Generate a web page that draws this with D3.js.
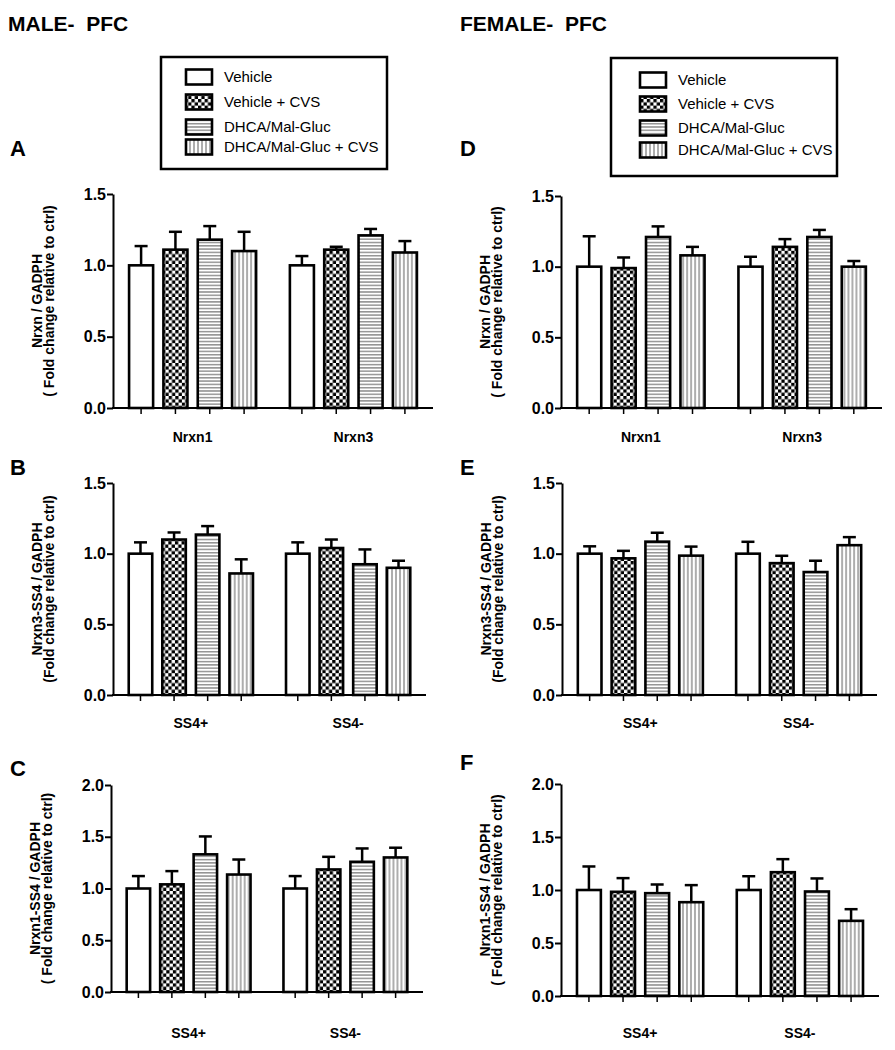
<!DOCTYPE html>
<html><head><meta charset="utf-8">
<script src="https://cdn.jsdelivr.net/npm/d3@7"></script>
<style>
body{margin:0;background:#fff}
text{font-family:"Liberation Sans",Arial,Helvetica,sans-serif}
</style>
</head><body>
<svg id="chart" width="895" height="1050"></svg>
<script>
// ---------- DATA ----------
const seriesNames = ["Vehicle", "Vehicle + CVS", "DHCA/Mal-Gluc", "DHCA/Mal-Gluc + CVS"];
const nrxnGroups = ["Nrxn1", "Nrxn3"];
const ss4Groups = ["SS4+", "SS4-"];
const yTicksLow = [0, 0.5, 1.0, 1.5];
const yTicksHigh = [0, 0.5, 1.0, 1.5, 2.0];

// Male PFC
const meanA = [[1.00, 1.11, 1.18, 1.10], [1.00, 1.11, 1.21, 1.09]];
const semA  = [[0.135, 0.125, 0.095, 0.135], [0.065, 0.02, 0.045, 0.08]];
const meanB = [[1.00, 1.10, 1.135, 0.86], [1.00, 1.04, 0.925, 0.90]];
const semB  = [[0.08, 0.05, 0.06, 0.10], [0.08, 0.06, 0.105, 0.05]];
const meanC = [[1.00, 1.04, 1.33, 1.135], [1.00, 1.184, 1.258, 1.30]];
const semC  = [[0.12, 0.128, 0.173, 0.145], [0.12, 0.122, 0.129, 0.094]];
// Female PFC
const meanD = [[1.00, 0.99, 1.21, 1.08], [1.00, 1.14, 1.21, 1.00]];
const semD  = [[0.215, 0.075, 0.075, 0.06], [0.07, 0.055, 0.05, 0.04]];
const meanE = [[1.00, 0.967, 1.085, 0.986], [1.00, 0.933, 0.87, 1.06]];
const semE  = [[0.052, 0.053, 0.063, 0.064], [0.084, 0.052, 0.08, 0.057]];
const meanF = [[1.00, 0.983, 0.97, 0.885], [1.00, 1.168, 0.986, 0.709]];
const semF  = [[0.222, 0.129, 0.082, 0.161], [0.13, 0.123, 0.123, 0.11]];

const yLabel1 = ["Nrxn / GADPH", "Nrxn3-SS4 / GADPH", "Nrxn1-SS4 / GADPH"];
const yLabel2 = ["( Fold change relative to ctrl)", "(Fold change relative to ctrl)", "( Fold change relative to ctrl)"];

// ---------- LAYOUT ----------
const svg = d3.select("#chart");
svg.append("rect").attr("width", 895).attr("height", 1050).attr("fill", "#fff");

const defs = svg.append("defs");
const pc = defs.append("pattern").attr("id", "pCheck").attr("patternUnits", "userSpaceOnUse")
  .attr("width", 6.6).attr("height", 6.6);
pc.append("rect").attr("width", 6.6).attr("height", 6.6).attr("fill", "#fff");
pc.append("rect").attr("width", 3.3).attr("height", 3.3).attr("fill", "#000");
pc.append("rect").attr("x", 3.3).attr("y", 3.3).attr("width", 3.3).attr("height", 3.3).attr("fill", "#000");
const ph = defs.append("pattern").attr("id", "pHor").attr("patternUnits", "userSpaceOnUse")
  .attr("width", 4).attr("height", 3.3);
ph.append("rect").attr("width", 4).attr("height", 3.3).attr("fill", "#fff");
ph.append("rect").attr("y", 1).attr("width", 4).attr("height", 1.2).attr("fill", "#777");
const pv = defs.append("pattern").attr("id", "pVer").attr("patternUnits", "userSpaceOnUse")
  .attr("width", 4).attr("height", 4);
pv.append("rect").attr("width", 4).attr("height", 4).attr("fill", "#fff");
pv.append("rect").attr("x", 1.4).attr("width", 1.2).attr("height", 4).attr("fill", "#777");

const fills = ["#fff", "url(#pCheck)", "url(#pHor)", "url(#pVer)"];

const panels = [
  {letter: "A", lx: 10, ly: 156, left: 113, right: 433, top: 194, bottom: 408, max: 1.5, ticks: yTicksLow, mean: meanA, sem: semA, groups: nrxnGroups, lab: 0, catDy: 34},
  {letter: "B", lx: 10, ly: 475, left: 113, right: 426, top: 483, bottom: 695, max: 1.5, ticks: yTicksLow, mean: meanB, sem: semB, groups: ss4Groups, lab: 1, catDy: 33},
  {letter: "C", lx: 10, ly: 776, left: 111, right: 423, top: 785, bottom: 992, max: 2.0, ticks: yTicksHigh, mean: meanC, sem: semC, groups: ss4Groups, lab: 2, catDy: 46},
  {letter: "D", lx: 460, ly: 156, left: 561, right: 882, top: 196, bottom: 408, max: 1.5, ticks: yTicksLow, mean: meanD, sem: semD, groups: nrxnGroups, lab: 0, catDy: 34},
  {letter: "E", lx: 460, ly: 475, left: 562, right: 877, top: 483, bottom: 695, max: 1.5, ticks: yTicksLow, mean: meanE, sem: semE, groups: ss4Groups, lab: 1, catDy: 33},
  {letter: "F", lx: 460, ly: 770, left: 561, right: 879, top: 784, bottom: 996, max: 2.0, ticks: yTicksHigh, mean: meanF, sem: semF, groups: ss4Groups, lab: 2, catDy: 42}
];

panels.forEach(p => {
  const g = svg.append("g");
  const y = d3.scaleLinear().domain([0, p.max]).range([p.bottom, p.top]);
  const x0 = d3.scaleBand().domain(p.groups).range([p.left, p.right]).paddingInner(0.21).paddingOuter(0.1);
  const x1 = d3.scaleBand().domain(d3.range(seriesNames.length)).range([0, x0.bandwidth()]).paddingInner(0.3).paddingOuter(0);

  g.append("text").attr("x", p.lx).attr("y", p.ly).attr("font-size", 22).attr("font-weight", "bold").text(p.letter);

  const ya = g.append("g").attr("transform", `translate(${p.left},0)`)
    .call(d3.axisLeft(y).tickValues(p.ticks).tickFormat(d3.format(".1f")).tickSize(6).tickSizeOuter(0).tickPadding(1));
  ya.attr("font-size", null).attr("font-family", null);
  ya.select(".domain").attr("stroke", "#000").attr("stroke-width", 2);
  ya.selectAll(".tick line").attr("stroke", "#000").attr("stroke-width", 2);
  ya.selectAll(".tick text").attr("font-size", 16).attr("font-weight", "bold").attr("fill", "#000");

  const cy = (p.top + p.bottom) / 2;
  g.append("text").attr("transform", `translate(${p.left - 71},${cy}) rotate(-90)`)
    .attr("text-anchor", "middle").attr("font-size", 14).attr("font-weight", "bold").text(yLabel1[p.lab]);
  g.append("text").attr("transform", `translate(${p.left - 59},${cy}) rotate(-90)`)
    .attr("text-anchor", "middle").attr("font-size", 14).attr("font-weight", "bold").text(yLabel2[p.lab]);

  p.groups.forEach((grp, gi) => {
    const gg = g.append("g").attr("transform", `translate(${x0(grp)},0)`);
    const rows = p.mean[gi].map((m, si) => ({si, m, s: p.sem[gi][si]}));
    const cx = d => x1(d.si) + x1.bandwidth() / 2;
    gg.selectAll("line.err").data(rows).join("line").attr("class", "err")
      .attr("x1", cx).attr("x2", cx)
      .attr("y1", d => y(d.m)).attr("y2", d => y(d.m + d.s))
      .attr("stroke", "#000").attr("stroke-width", 2.5);
    gg.selectAll("line.cap").data(rows).join("line").attr("class", "cap")
      .attr("x1", d => cx(d) - 6.5).attr("x2", d => cx(d) + 6.5)
      .attr("y1", d => y(d.m + d.s)).attr("y2", d => y(d.m + d.s))
      .attr("stroke", "#000").attr("stroke-width", 2.5);
    gg.selectAll("rect.bar").data(rows).join("rect").attr("class", "bar")
      .attr("x", d => x1(d.si)).attr("width", x1.bandwidth())
      .attr("y", d => y(d.m)).attr("height", d => y(0) - y(d.m))
      .attr("fill", d => fills[d.si]).attr("stroke", "#000").attr("stroke-width", 2.6);
    gg.selectAll("line.xt").data(rows).join("line").attr("class", "xt")
      .attr("x1", cx).attr("x2", cx)
      .attr("y1", p.bottom).attr("y2", p.bottom + 6)
      .attr("stroke", "#000").attr("stroke-width", 1.5);
    g.append("text").attr("x", x0(grp) + x0.bandwidth() / 2).attr("y", p.bottom + p.catDy)
      .attr("text-anchor", "middle").attr("font-size", 14).attr("font-weight", "bold").text(grp);
  });

  g.append("line").attr("x1", p.left - 1).attr("x2", p.right).attr("y1", p.bottom).attr("y2", p.bottom)
    .attr("stroke", "#000").attr("stroke-width", 2);
});

svg.append("text").attr("x", 8).attr("y", 31).attr("font-size", 21).attr("font-weight", "bold")
  .style("white-space", "pre").text("MALE-  PFC");
svg.append("text").attr("x", 460).attr("y", 31).attr("font-size", 21).attr("font-weight", "bold")
  .style("white-space", "pre").text("FEMALE-  PFC");

const legends = [
  {x: 161, y: 57, w: 226, h: 112, sx: 186, tx: 224, rows: [77, 102, 127, 147]},
  {x: 611, y: 58, w: 226, h: 118, sx: 640, tx: 678, rows: [80, 104, 128, 150]}
];
legends.forEach(L => {
  const lg = svg.append("g");
  lg.append("rect").attr("x", L.x).attr("y", L.y).attr("width", L.w).attr("height", L.h)
    .attr("fill", "#fff").attr("stroke", "#000").attr("stroke-width", 2.5);
  seriesNames.forEach((name, i) => {
    lg.append("rect").attr("x", L.sx).attr("y", L.rows[i] - 7.5).attr("width", 26).attr("height", 15)
      .attr("fill", fills[i]).attr("stroke", "#000").attr("stroke-width", 2.6);
    lg.append("text").attr("x", L.tx).attr("y", L.rows[i] + 5).attr("font-size", 15).text(name);
  });
});
</script>
</body></html>
